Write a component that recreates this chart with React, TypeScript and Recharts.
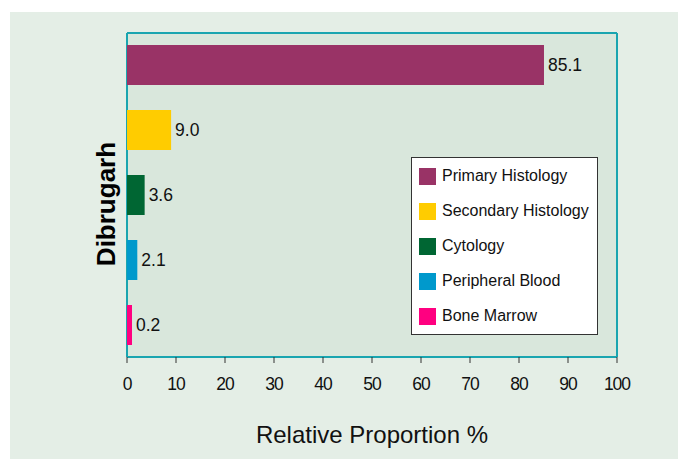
import { BarChart, Bar, XAxis, YAxis, CartesianGrid, Legend, LabelList } from 'recharts';

const categories = ['Dibrugarh'];
const seriesKeys = ['primary', 'secondary', 'cytology', 'peripheral', 'boneMarrow'];
const seriesNames = ['Primary Histology', 'Secondary Histology', 'Cytology', 'Peripheral Blood', 'Bone Marrow'];
const seriesValues = [85.1, 9.0, 3.6, 2.1, 0.2];
const seriesColors = ['#993366', '#ffcc00', '#006633', '#0099cc', '#ff0080'];
const xTicks = [0, 10, 20, 30, 40, 50, 60, 70, 80, 90, 100];

const FONT = '"Liberation Sans", Arial, sans-serif';

const data = categories.map((name) => {
  const row: Record<string, string | number> = { name };
  seriesKeys.forEach((k, i) => {
    row[k] = seriesValues[i];
  });
  return row;
});

const CategoryTick = ({ x, y, payload }: any) => (
  <text
    x={x - 13}
    y={y + 9}
    transform={`rotate(-90, ${x - 13}, ${y + 9})`}
    textAnchor="middle"
    dominantBaseline="central"
    fontFamily={FONT}
    fontSize={26}
    fontWeight={700}
    fill="#000"
  >
    {payload.value}
  </text>
);

const LegendBox = () => (
  <div
    style={{
      width: 185,
      height: 176,
      background: '#fff',
      border: '1.5px solid #333',
      fontFamily: FONT,
      fontSize: 16,
      color: '#111',
      position: 'relative',
    }}
  >
    {seriesNames.map((n, i) => (
      <div key={n} style={{ position: 'absolute', left: 7, top: 9 + i * 35, height: 18, display: 'flex', alignItems: 'center', whiteSpace: 'nowrap' }}>
        <span style={{ width: 17, height: 17, background: seriesColors[i], display: 'inline-block', marginRight: 6 }} />
        <span>{n}</span>
      </div>
    ))}
  </div>
);

export default function App() {
  return (
    <div style={{ position: 'absolute', left: 0, top: 0, width: 681, height: 461, background: '#fff' }}>
      <div style={{ position: 'absolute', left: 10, top: 12, width: 668, height: 447, background: '#e4eee6' }} />
      <div style={{ position: 'absolute', left: 0, top: 0 }}>
        <BarChart
          width={681}
          height={461}
          data={data}
          layout="vertical"
          margin={{ top: 33, right: 64, bottom: 4, left: 0 }}
          barCategoryGap={12}
          barGap={25}
        >
          <CartesianGrid
            fill="#d9e7dc"
            stroke="#1aa5b0"
            strokeWidth={2}
            horizontalPoints={[33, 357]}
            verticalPoints={[127, 617]}
          />
          <XAxis
            type="number"
            domain={[0, 100]}
            ticks={xTicks}
            height={100}
            axisLine={false}
            tickLine={{ stroke: '#333' }}
            tickSize={6}
            tickMargin={15}
            tick={{ fill: '#111', fontSize: 17.5, fontFamily: FONT, letterSpacing: -1 }}
            label={{
              value: 'Relative Proportion %',
              position: 'insideBottom',
              offset: 14,
              style: { fill: '#111', fontSize: 24, fontFamily: FONT },
            }}
          />
          <YAxis type="category" dataKey="name" width={127} axisLine={false} tickLine={false} tick={<CategoryTick />} />
          <Legend
            layout="vertical"
            align="center"
            verticalAlign="middle"
            wrapperStyle={{ position: 'absolute', left: 411, top: 157, width: 188, height: 179 }}
            content={<LegendBox />}
          />
          {seriesKeys.map((k, i) => (
            <Bar key={k} dataKey={k} name={seriesNames[i]} fill={seriesColors[i]} minPointSize={5} isAnimationActive={false}>
              <LabelList
                dataKey={k}
                position="right"
                offset={4}
                formatter={(v: any) => Number(v).toFixed(1)}
                style={{ fill: '#111', fontSize: 17.5, fontFamily: FONT }}
              />
            </Bar>
          ))}
        </BarChart>
      </div>
    </div>
  );
}
